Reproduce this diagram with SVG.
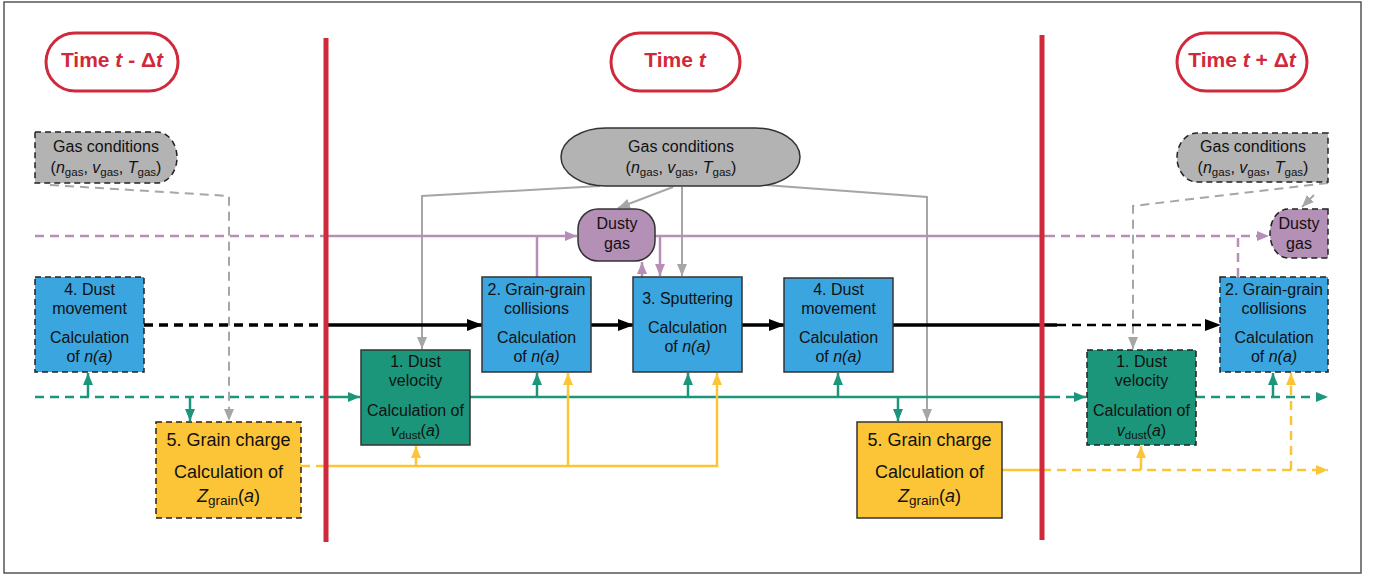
<svg xmlns="http://www.w3.org/2000/svg" width="1377" height="577" viewBox="0 0 1377 577">
<style>
text{font-family:"Liberation Sans",Arial,sans-serif;fill:#111;text-anchor:middle}
.t15{font-size:16px}
.t17{font-size:18px}
.time{font-size:21px;font-weight:bold;fill:#d0293b}
.pill{fill:#fff;stroke:#d0293b;stroke-width:3}
.red{stroke:#d0293b;stroke-width:5}
.blue{fill:#3ba5df}
.teal{fill:#1b967a}
.yel{fill:#fcc537}
.gasf{fill:#b3b3b3}
.dus{fill:#b48fb6}
.solid{stroke:#333;stroke-width:1.5}
.dash{stroke:#222;stroke-width:1.5;stroke-dasharray:6 4}
.c{fill:none}
.cg{stroke:#a6a6a6;stroke-width:2}
.cp{stroke:#b68fb9;stroke-width:2.5}
.ck{stroke:#000;stroke-width:3.5}
.ct{stroke:#1b967a;stroke-width:2.5}
.cy{stroke:#fcc537;stroke-width:2.5}
.d{stroke-dasharray:9 6}
</style>
<defs>
<marker id="ak" markerUnits="userSpaceOnUse" markerWidth="16" markerHeight="12" refX="15" refY="6" orient="auto"><path d="M0,0 L16,6 L0,12 z" fill="#000"/></marker>
<marker id="ag" markerUnits="userSpaceOnUse" markerWidth="12" markerHeight="10" refX="12" refY="5" orient="auto"><path d="M0,0 L12,5 L0,10 z" fill="#a6a6a6"/></marker>
<marker id="ap" markerUnits="userSpaceOnUse" markerWidth="12" markerHeight="10" refX="12" refY="5" orient="auto"><path d="M0,0 L12,5 L0,10 z" fill="#b68fb9"/></marker>
<marker id="at" markerUnits="userSpaceOnUse" markerWidth="12" markerHeight="10" refX="12" refY="5" orient="auto"><path d="M0,0 L12,5 L0,10 z" fill="#1b967a"/></marker>
<marker id="ay" markerUnits="userSpaceOnUse" markerWidth="12" markerHeight="10" refX="12" refY="5" orient="auto"><path d="M0,0 L12,5 L0,10 z" fill="#fcc537"/></marker>
</defs>
<rect x="4" y="2" width="1357" height="571" fill="#fff" stroke="#555" stroke-width="1.5"/>

<g id="connectors" class="c">
<!-- gray -->
<path class="cg d" d="M50,185 L229,196 V421" marker-end="url(#ag)"/>
<path class="cg" d="M600,186 L422,196 V349" marker-end="url(#ag)"/>
<path class="cg" d="M673,187 L618,208" marker-end="url(#ag)"/>
<path class="cg" d="M682,187 V276" marker-end="url(#ag)"/>
<path class="cg" d="M765,185 L927,197 V421" marker-end="url(#ag)"/>
<path class="cg d" d="M1328,183 L1133,206 V349" marker-end="url(#ag)"/>
<path class="cg" d="M1314,195 L1302,207" marker-end="url(#ag)"/>
<!-- purple -->
<path class="cp d" d="M35,236 H326"/>
<path class="cp" d="M326,236 H577" marker-end="url(#ap)"/>
<path class="cp" d="M537,277 V236"/>
<path class="cp" d="M655,236 H1046"/>
<path class="cp d" d="M1046,236 H1269" marker-end="url(#ap)"/>
<path class="cp" d="M660,236 V276" marker-end="url(#ap)"/>
<path class="cp" d="M642,277 V262" marker-end="url(#ap)"/>
<path class="cp d" d="M1238,277 V236"/>
<!-- black -->
<path class="ck d" d="M144,325 H326"/>
<path class="ck" d="M326,325 H482" marker-end="url(#ak)"/>
<path class="ck" d="M591,325 H633" marker-end="url(#ak)"/>
<path class="ck" d="M742,325 H784" marker-end="url(#ak)"/>
<path class="ck" d="M893,325 H1057"/>
<path class="ck d" style="stroke-width:2.5" d="M1057,325 H1220" marker-end="url(#ak)"/>
<!-- teal -->
<path class="ct d" d="M35,397 H320"/>
<path class="ct" d="M320,397 H360" marker-end="url(#at)"/>
<path class="ct" d="M88,397 V373" marker-end="url(#at)"/>
<path class="ct" d="M190,397 V421" marker-end="url(#at)"/>
<path class="ct" d="M470,397 H1051"/>
<path class="ct d" d="M1051,397 H1086" marker-end="url(#at)"/>
<path class="ct" d="M537,397 V373" marker-end="url(#at)"/>
<path class="ct" d="M688,397 V373" marker-end="url(#at)"/>
<path class="ct" d="M838,397 V373" marker-end="url(#at)"/>
<path class="ct" d="M898,397 V421" marker-end="url(#at)"/>
<path class="ct d" d="M1196,397 H1328" marker-end="url(#at)"/>
<path class="ct" d="M1273,397 V373" marker-end="url(#at)"/>
<!-- yellow -->
<path class="cy d" d="M301,466 H326"/>
<path class="cy" d="M326,466 H717 V373" marker-end="url(#ay)"/>
<path class="cy" d="M416,466 V446" marker-end="url(#ay)"/>
<path class="cy" d="M568,466 V373" marker-end="url(#ay)"/>
<path class="cy" d="M1002,470 H1042"/>
<path class="cy d" d="M1042,470 H1328" marker-end="url(#ay)"/>
<path class="cy" d="M1141,470 V446" marker-end="url(#ay)"/>
<path class="cy d" d="M1291,470 V373" marker-end="url(#ay)"/>
</g>

<g id="separators">
<line class="red" x1="326" y1="38" x2="326" y2="542"/>
<line class="red" x1="1042" y1="35" x2="1042" y2="540"/>
</g>

<g id="time-prev">
<rect class="pill" x="46" y="33" width="132" height="58" rx="29"/>
<text class="time" x="112" y="67">Time <tspan font-style="italic">t</tspan> - Δ<tspan font-style="italic">t</tspan></text>
</g>
<g id="time-now">
<rect class="pill" x="611" y="33" width="129" height="58" rx="29"/>
<text class="time" x="675" y="67">Time <tspan font-style="italic">t</tspan></text>
</g>
<g id="time-next">
<rect class="pill" x="1177" y="33" width="130" height="58" rx="29"/>
<text class="time" x="1242" y="67">Time <tspan font-style="italic">t</tspan> + Δ<tspan font-style="italic">t</tspan></text>
</g>

<g id="gas-prev">
<path class="gasf dash" d="M35,132 H157 A20,25.5 0 0 1 157,183 H35 Z"/>
<text class="t15" x="106" y="152">Gas conditions</text>
<text class="t15" x="106" y="173">(<tspan font-style="italic">n</tspan><tspan font-size="11.5" dy="3">gas</tspan><tspan dy="-3">, </tspan><tspan font-style="italic">v</tspan><tspan font-size="11.5" dy="3">gas</tspan><tspan dy="-3">, </tspan><tspan font-style="italic">T</tspan><tspan font-size="11.5" dy="3">gas</tspan><tspan dy="-3">)</tspan></text>
</g>
<g id="gas-now">
<rect class="gasf solid" x="561" y="128" width="239" height="58" rx="45" ry="29"/>
<text class="t15" x="681" y="152">Gas conditions</text>
<text class="t15" x="681" y="173">(<tspan font-style="italic">n</tspan><tspan font-size="11.5" dy="3">gas</tspan><tspan dy="-3">, </tspan><tspan font-style="italic">v</tspan><tspan font-size="11.5" dy="3">gas</tspan><tspan dy="-3">, </tspan><tspan font-style="italic">T</tspan><tspan font-size="11.5" dy="3">gas</tspan><tspan dy="-3">)</tspan></text>
</g>
<g id="gas-next">
<path class="gasf dash" d="M1328,133 H1197 A20,24.5 0 0 0 1197,182 H1328 Z"/>
<text class="t15" x="1253" y="152">Gas conditions</text>
<text class="t15" x="1253" y="173">(<tspan font-style="italic">n</tspan><tspan font-size="11.5" dy="3">gas</tspan><tspan dy="-3">, </tspan><tspan font-style="italic">v</tspan><tspan font-size="11.5" dy="3">gas</tspan><tspan dy="-3">, </tspan><tspan font-style="italic">T</tspan><tspan font-size="11.5" dy="3">gas</tspan><tspan dy="-3">)</tspan></text>
</g>

<g id="dusty-now">
<rect class="dus solid" x="578" y="209" width="77" height="52" rx="20"/>
<text class="t15" x="617" y="229">Dusty</text>
<text class="t15" x="617" y="249">gas</text>
</g>
<g id="dusty-next">
<path class="dus dash" d="M1328,209 H1288 A18,24.5 0 0 0 1288,258 H1328 Z"/>
<text class="t15" x="1299" y="229">Dusty</text>
<text class="t15" x="1299" y="249">gas</text>
</g>

<g id="move-prev">
<rect class="blue dash" x="35" y="277" width="109" height="95"/>
<text class="t15" x="89.5" y="295">4. Dust</text>
<text class="t15" x="89.5" y="314">movement</text>
<text class="t15" x="89.5" y="343">Calculation</text>
<text class="t15" x="89.5" y="362">of <tspan font-style="italic">n(a)</tspan></text>
</g>
<g id="charge-prev">
<rect class="yel dash" x="156" y="422" width="145" height="96"/>
<text class="t17" x="228.5" y="446">5. Grain charge</text>
<text class="t17" x="228.5" y="478">Calculation of</text>
<text class="t17" x="228.5" y="502"><tspan font-style="italic">Z</tspan><tspan font-size="13.5" dy="3">grain</tspan><tspan dy="-3">(</tspan><tspan font-style="italic">a</tspan>)</text>
</g>

<g id="velocity-now">
<rect class="teal solid" x="361" y="350" width="109" height="95"/>
<text class="t15" x="415.5" y="367">1. Dust</text>
<text class="t15" x="415.5" y="386">velocity</text>
<text class="t15" x="415.5" y="416">Calculation of</text>
<text class="t15" x="415.5" y="436"><tspan font-style="italic">v</tspan><tspan font-size="11.5" dy="3">dust</tspan><tspan dy="-3">(</tspan><tspan font-style="italic">a</tspan>)</text>
</g>
<g id="collisions-now">
<rect class="blue solid" x="482" y="277" width="109" height="95"/>
<text class="t15" x="536.5" y="295">2. Grain-grain</text>
<text class="t15" x="536.5" y="314">collisions</text>
<text class="t15" x="536.5" y="343">Calculation</text>
<text class="t15" x="536.5" y="362">of <tspan font-style="italic">n(a)</tspan></text>
</g>
<g id="sputtering-now">
<rect class="blue solid" x="633" y="277" width="109" height="95"/>
<text class="t15" x="687.5" y="304">3. Sputtering</text>
<text class="t15" x="687.5" y="333">Calculation</text>
<text class="t15" x="687.5" y="352">of <tspan font-style="italic">n(a)</tspan></text>
</g>
<g id="move-now">
<rect class="blue solid" x="784" y="278" width="109" height="94"/>
<text class="t15" x="838.5" y="295">4. Dust</text>
<text class="t15" x="838.5" y="314">movement</text>
<text class="t15" x="838.5" y="343">Calculation</text>
<text class="t15" x="838.5" y="362">of <tspan font-style="italic">n(a)</tspan></text>
</g>
<g id="charge-now">
<rect class="yel solid" x="857" y="422" width="145" height="96"/>
<text class="t17" x="929.5" y="446">5. Grain charge</text>
<text class="t17" x="929.5" y="478">Calculation of</text>
<text class="t17" x="929.5" y="502"><tspan font-style="italic">Z</tspan><tspan font-size="13.5" dy="3">grain</tspan><tspan dy="-3">(</tspan><tspan font-style="italic">a</tspan>)</text>
</g>

<g id="velocity-next">
<rect class="teal dash" x="1087" y="350" width="109" height="95"/>
<text class="t15" x="1141.5" y="367">1. Dust</text>
<text class="t15" x="1141.5" y="386">velocity</text>
<text class="t15" x="1141.5" y="416">Calculation of</text>
<text class="t15" x="1141.5" y="436"><tspan font-style="italic">v</tspan><tspan font-size="11.5" dy="3">dust</tspan><tspan dy="-3">(</tspan><tspan font-style="italic">a</tspan>)</text>
</g>
<g id="collisions-next">
<rect class="blue dash" x="1220" y="277" width="108" height="95"/>
<text class="t15" x="1274" y="295">2. Grain-grain</text>
<text class="t15" x="1274" y="314">collisions</text>
<text class="t15" x="1274" y="343">Calculation</text>
<text class="t15" x="1274" y="362">of <tspan font-style="italic">n(a)</tspan></text>
</g>
</svg>
